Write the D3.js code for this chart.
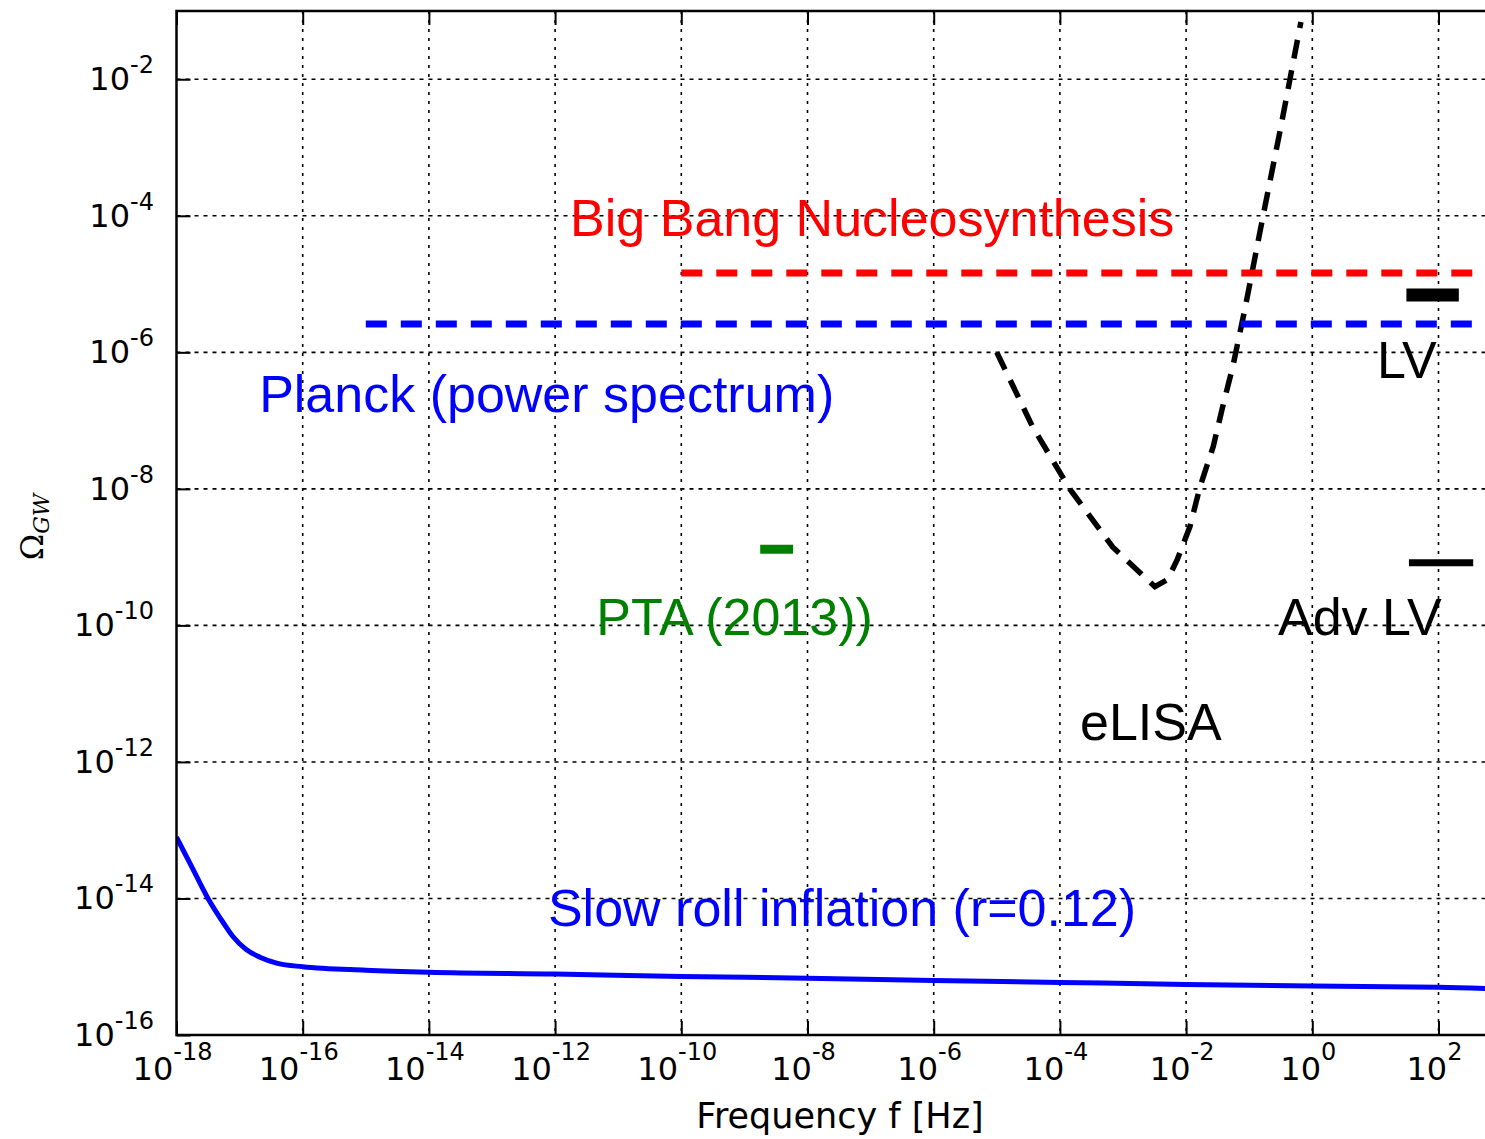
<!DOCTYPE html>
<html><head><meta charset="utf-8">
<script src="https://cdn.jsdelivr.net/npm/d3@7"></script>
<style>
body{margin:0;background:#fff;}
svg{display:block;}
.lbl{font-family:"Liberation Sans","Helvetica Neue",Helvetica,Arial,sans-serif;font-size:52px;}
</style></head>
<body><svg id="c" width="1485" height="1139"></svg>
<script>
// ---- data ----
const xTicks = [1e-18,1e-16,1e-14,1e-12,1e-10,1e-8,1e-6,1e-4,1e-2,1e0,1e2];
const xTickExp = ["-18","-16","-14","-12","-10","-8","-6","-4","-2","0","2"];
const yTicks = [1e-16,1e-14,1e-12,1e-10,1e-8,1e-6,1e-4,1e-2];
const yTickExp = ["-16","-14","-12","-10","-8","-6","-4","-2"];

// Slow roll inflation (r=0.12)
const slowF = [1e-18,1.78e-18,3.16e-18,5.62e-18,7.9e-18,1.26e-17,2.1e-17,4.0e-17,1e-16,1e-15,1e-14,1e-12,1e-10,1e-8,1e-6,1e-4,1e-2,1,100,1000];
const slowO = [7.9e-14,2.8e-14,1.0e-14,4.3e-15,2.75e-15,1.8e-15,1.38e-15,1.12e-15,1.0e-15,8.9e-16,8.3e-16,7.8e-16,7.2e-16,6.8e-16,6.3e-16,5.9e-16,5.5e-16,5.2e-16,5.0e-16,4.7e-16];

// eLISA sensitivity
const elisaF = [1e-5,3.7e-5,1.45e-4,6.9e-4,1.86e-3,3.2e-3,5.1e-3,7.2e-3,1.15e-2,1.66e-2,2.7e-2,3.8e-2,5.5e-2,8.5e-2,0.166,0.31,0.66];
const elisaO = [1e-6,8.1e-8,9.8e-9,1.4e-9,5.9e-10,3.7e-10,4.7e-10,9.1e-10,2.8e-9,1.07e-8,4.2e-8,1.6e-7,6.2e-7,4.2e-6,1.0e-4,1.8e-3,6.9e-2];

// horizontal bounds
const bbnF = [1e-10, 1e3], bbnO = 1.45e-5;
const planckF = [1e-15, 1e3], planckO = 2.6e-6;
const lvF = [31, 210], lvO = 6.9e-6;
const advF = [34, 355], advO = 8.3e-10;
const ptaF = [1.78e-9, 5.9e-9], ptaO = 1.3e-9;

const labels = [
  {t:"Big Bang Nucleosynthesis", f:1.73e-12, o:5.1e-5, c:"#ff0000"},
  {t:"Planck (power spectrum)", f:2.04e-17, o:1.35e-7, c:"#0000ff"},
  {t:"LV", f:10.6, o:4.2e-7, c:"#000000"},
  {t:"PTA (2013))", f:4.5e-12, o:7.3e-11, c:"#008000"},
  {t:"Adv LV", f:0.286, o:7.3e-11, c:"#000000"},
  {t:"eLISA", f:2.08e-4, o:2.12e-12, c:"#000000"},
  {t:"Slow roll inflation (r=0.12)", f:7.7e-13, o:4.0e-15, c:"#0000ff"}
];

// ---- layout ----
const L = 176.5, T = 11, B = 1035, R = 1501.6;
const svg = d3.select("#c");
const x = d3.scaleLog().domain([1e-18, 1e3]).range([L, R]);
const y = d3.scaleLog().domain([1e-16, 1e-1]).range([B, T]);

svg.append("defs").append("clipPath").attr("id","clip")
  .append("rect").attr("x",L).attr("y",T).attr("width",R-L).attr("height",B-T);

// grid
const grid = svg.append("g");
grid.selectAll("line.gx").data(xTicks.slice(1)).join("line")
  .attr("x1",d=>x(d)).attr("x2",d=>x(d)).attr("y1",T).attr("y2",B)
  .attr("stroke","#000").attr("stroke-width",1.6).attr("stroke-dasharray","3,6");
grid.selectAll("line.gy").data(yTicks.slice(1)).join("line")
  .attr("y1",d=>y(d)).attr("y2",d=>y(d)).attr("x1",L).attr("x2",R)
  .attr("stroke","#000").attr("stroke-width",1.6).attr("stroke-dasharray","4,5");

// ticks (inward) via axes
const tl = 14;
const axB = svg.append("g").attr("transform",`translate(0,${B})`)
  .call(d3.axisBottom(x).tickValues(xTicks).tickSize(-tl).tickFormat(""));
const axT = svg.append("g").attr("transform",`translate(0,${T})`)
  .call(d3.axisTop(x).tickValues(xTicks).tickSize(-tl).tickFormat(""));
const axL = svg.append("g").attr("transform",`translate(${L},0)`)
  .call(d3.axisLeft(y).tickValues(yTicks).tickSize(-tl).tickFormat(""));
[axB,axT,axL].forEach(a=>{
  a.select(".domain").remove();
  a.selectAll(".tick line").attr("stroke","#000").attr("stroke-width",2);
});

// data marks
const plot = svg.append("g").attr("clip-path","url(#clip)");
const line = d3.line().x(d=>x(d[0])).y(d=>y(d[1])).curve(d3.curveMonotoneX);

plot.append("path").datum(slowF.map((f,i)=>[f,slowO[i]]))
  .attr("d",line).attr("fill","none").attr("stroke","#0000ff").attr("stroke-width",5);

plot.append("path").datum(elisaF.map((f,i)=>[f,elisaO[i]]))
  .attr("d",d3.line().x(d=>x(d[0])).y(d=>y(d[1])))
  .attr("fill","none").attr("stroke","#000").attr("stroke-width",5.5)
  .attr("stroke-dasharray","19,12");

plot.append("line").attr("x1",x(bbnF[0])).attr("x2",x(bbnF[1])).attr("y1",y(bbnO)).attr("y2",y(bbnO))
  .attr("stroke","#ff0000").attr("stroke-width",7).attr("stroke-dasharray","21,14");
plot.append("line").attr("x1",x(planckF[0])).attr("x2",x(planckF[1])).attr("y1",y(planckO)).attr("y2",y(planckO))
  .attr("stroke","#0000ff").attr("stroke-width",7).attr("stroke-dasharray","21,14");
plot.append("line").attr("x1",x(lvF[0])).attr("x2",x(lvF[1])).attr("y1",y(lvO)).attr("y2",y(lvO))
  .attr("stroke","#000").attr("stroke-width",13);
plot.append("line").attr("x1",x(advF[0])).attr("x2",x(advF[1])).attr("y1",y(advO)).attr("y2",y(advO))
  .attr("stroke","#000").attr("stroke-width",7);
plot.append("line").attr("x1",x(ptaF[0])).attr("x2",x(ptaF[1])).attr("y1",y(ptaO)).attr("y2",y(ptaO))
  .attr("stroke","#008000").attr("stroke-width",9);

// text labels
svg.selectAll("text.lbl").data(labels).join("text").attr("class","lbl")
  .attr("x",d=>x(d.f)).attr("y",d=>y(d.o)).attr("fill",d=>d.c).text(d=>d.t);

// frame
const fr = svg.append("g").attr("fill","none").attr("stroke","#000").attr("stroke-width",2.5);
fr.append("path").attr("d",`M${R},${T}H${L}V${B}H${R}`);

// tick labels
const tf = 'font-family:"DejaVu Sans",sans-serif;fill:#000';
xTicks.forEach((v,i)=>{
  const t = svg.append("text").attr("x",x(v)-4).attr("y",1080).attr("text-anchor","middle").attr("style",tf);
  t.append("tspan").attr("font-size",32).text("10");
  t.append("tspan").attr("font-size",24).attr("dy",-20).text(xTickExp[i]);
});
yTicks.forEach((v,i)=>{
  const t = svg.append("text").attr("x",154).attr("y",y(v)+11).attr("text-anchor","end").attr("style",tf);
  t.append("tspan").attr("font-size",32).text("10");
  t.append("tspan").attr("font-size",24).attr("dy",-17).text(yTickExp[i]);
});

// axis titles
svg.append("text").attr("x",840).attr("y",1128).attr("text-anchor","middle")
  .attr("style",tf).attr("font-size",35).text("Frequency f [Hz]");
const yl = svg.append("text").attr("transform","translate(43,527) rotate(-90)").attr("text-anchor","middle")
  .attr("style",'font-family:"DejaVu Serif",serif;fill:#000');
yl.append("tspan").attr("font-size",32).text("Ω");
yl.append("tspan").attr("font-size",22).attr("font-style","italic").attr("dy",6).text("GW");
</script></body></html>
